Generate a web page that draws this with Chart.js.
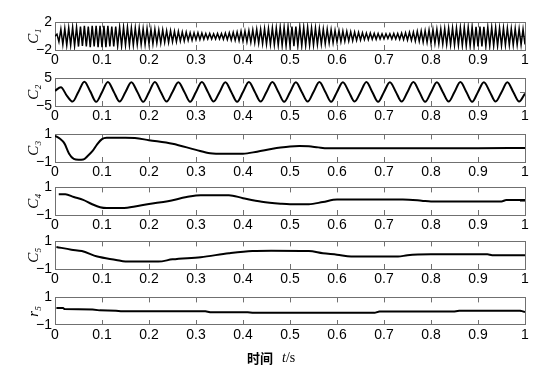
<!DOCTYPE html>
<html>
<head>
<meta charset="utf-8">
<script src="https://cdn.jsdelivr.net/npm/chart.js@4"></script>
<style>
  html, body { margin: 0; padding: 0; background: #fff; }
  #wrap { position: relative; width: 547px; height: 372px; overflow: hidden; }
  #wrap canvas { position: absolute; left: 0; }
</style>
</head>
<body>
<div id="wrap"></div>
<script>
// C1: evenly sampled, one value per half cycle (s)
const c1Step = 1 / 240;
const c1 = [0,
  0.3,-0.8,1.0,-1.2,1.1,-1.3,1.2,-1.3,1.3,-1.4,1.3,-1.5,1.4,-1.4,1.5,-1.5,1.4,-1.6,1.5,-1.5,1.5,-1.6,1.5,-1.6,
  1.5,-1.6,1.5,-1.5,1.4,-1.5,1.4,-1.4,1.3,-1.4,1.3,-1.3,1.3,-1.3,1.2,-1.3,1.2,-1.2,1.2,-1.2,1.1,-1.2,1.1,-1.1,
  1.0,-1.1,1.0,-1.0,0.9,-1.0,0.9,-0.9,0.8,-0.9,0.8,-0.8,0.7,-0.8,0.7,-0.7,0.6,-0.7,0.6,-0.6,0.5,-0.6,0.5,-0.5,
  0.5,-0.5,0.45,-0.45,0.4,-0.4,0.4,-0.4,0.35,-0.4,0.4,-0.4,0.4,-0.45,0.45,-0.5,0.5,-0.55,0.55,-0.6,0.6,-0.65,0.7,-0.75,
  0.75,-0.8,0.8,-0.9,0.9,-0.95,1.0,-1.0,1.0,-1.1,1.1,-1.15,1.1,-1.2,1.2,-1.25,1.2,-1.3,1.3,-1.35,1.3,-1.4,1.35,-1.4,
  1.4,-1.45,1.4,-1.4,1.35,-1.4,1.3,-1.35,1.3,-1.3,1.2,-1.3,1.2,-1.2,1.1,-1.15,1.05,-1.1,1.0,-1.0,0.95,-0.95,0.85,-0.85,
  0.8,-0.8,0.75,-0.75,0.7,-0.7,0.65,-0.65,0.6,-0.6,0.55,-0.55,0.5,-0.5,0.45,-0.5,0.45,-0.45,0.4,-0.45,0.4,-0.4,0.35,-0.4,
  0.35,-0.35,0.35,-0.4,0.4,-0.4,0.4,-0.45,0.45,-0.5,0.5,-0.55,0.55,-0.6,0.6,-0.7,0.7,-0.75,0.75,-0.85,0.8,-0.9,0.9,-1.0,
  0.95,-1.05,1.0,-1.1,1.05,-1.15,1.1,-1.2,1.15,-1.25,1.2,-1.3,1.2,-1.3,1.25,-1.35,1.3,-1.4,1.3,-1.4,1.35,-1.45,1.35,-1.5,
  1.4,-1.5,1.35,-1.45,1.3,-1.4,1.3,-1.4,1.25,-1.4,1.2,-1.35,1.2,-1.3,1.15,-1.3,1.1,-1.3,1.1,-1.25,1.05,-1.25,1.0,-1.2
];

// C2: evenly sampled every quarter period
const c2Step = 0.0125;
const c2 = [0.5, 1.8, -1.2, -3.4, 0.2, 3.8,
  0.3,-3.5,0.0,3.7,  0.2,-3.4,0.1,3.6,  0.2,-3.5,0.0,3.7,  0.1,-3.4,0.1,3.6,
  0.2,-3.5,0.1,3.7,  0.2,-3.4,0.0,3.6,  0.1,-3.5,0.1,3.7,  0.2,-3.4,0.1,3.7,
  0.2,-3.5,0.0,3.6,  0.1,-3.4,0.1,3.7,  0.2,-3.5,0.1,3.6,  0.2,-3.4,0.0,3.7,
  0.1,-3.5,0.1,3.6,  0.2,-3.4,0.1,3.7,  0.2,-3.5,0.0,3.6,  0.1,-3.4,0.1,3.7,
  0.2,-3.5,0.1,3.6,  0.2,-3.4,0.0,3.6,
  0.1, -3.4, -0.5
];

const c3T = [0, 0.01, 0.02, 0.03, 0.04, 0.05, 0.06, 0.07, 0.08, 0.09, 0.1, 0.11, 0.13, 0.15, 0.17, 0.2, 0.25, 0.3, 0.33, 0.36, 0.4, 0.43, 0.46, 0.48, 0.5, 0.52, 0.54, 0.56, 0.58, 0.7, 0.8, 0.9, 1.0];
const c3V = [0.9, 0.7, 0.35, -0.4, -0.78, -0.84, -0.82, -0.55, -0.2, 0.3, 0.66, 0.75, 0.76, 0.76, 0.74, 0.58, 0.32, -0.12, -0.36, -0.4, -0.4, -0.25, -0.06, 0.05, 0.13, 0.16, 0.14, 0.06, 0.0, 0.0, 0.0, 0.0, 0.02];

const c4T = [0.008, 0.022, 0.04, 0.06, 0.078, 0.096, 0.11, 0.147, 0.17, 0.2, 0.24, 0.28, 0.31, 0.37, 0.4, 0.44, 0.48, 0.5, 0.54, 0.57, 0.6, 0.74, 0.78, 0.8, 0.95, 0.96, 1.0];
const c4V = [0.5, 0.5, 0.3, 0.1, -0.2, -0.44, -0.5, -0.5, -0.38, -0.2, 0.0, 0.3, 0.44, 0.44, 0.22, -0.04, -0.18, -0.22, -0.22, -0.06, 0.12, 0.12, 0.04, -0.02, -0.02, 0.08, 0.08];

const c5T = [0.003, 0.035, 0.057, 0.09, 0.13, 0.15, 0.22, 0.25, 0.31, 0.37, 0.42, 0.46, 0.54, 0.57, 0.6, 0.63, 0.73, 0.75, 0.8, 0.92, 0.93, 1.0];
const c5V = [0.6, 0.4, 0.3, -0.1, -0.34, -0.46, -0.46, -0.3, -0.14, 0.14, 0.3, 0.32, 0.3, 0.14, 0.04, -0.1, -0.1, 0.0, 0.06, 0.06, 0.0, 0.0];

const r5T = [0.003, 0.017, 0.02, 0.08, 0.095, 0.13, 0.14, 0.32, 0.33, 0.41, 0.42, 0.68, 0.69, 0.85, 0.86, 0.99, 1.0];
const r5V = [0.24, 0.24, 0.16, 0.12, 0.06, 0.04, 0.0, 0.0, -0.08, -0.08, -0.12, -0.12, -0.02, -0.02, 0.04, 0.04, -0.06];

const names  = ['C\u2081', 'C\u2082', 'C\u2083', 'C\u2084', 'C\u2085', 'r\u2085'];
const yLims  = [2, 5, 1, 1, 1, 1];
const xTitle = ['\u65f6\u95f4', 't', '/s'];

function evenPts(vals, step) { return vals.map((v, i) => ({ x: i * step, y: v })); }
function pairPts(ts, vs) { return ts.map((t, i) => ({ x: t, y: vs[i] })); }

const series = [
  { pts: evenPts(c1, c1Step), lw: 1.5, smooth: false },
  { pts: evenPts(c2, c2Step), lw: 2, smooth: true },
  { pts: pairPts(c3T, c3V), lw: 2, smooth: true },
  { pts: pairPts(c4T, c4V), lw: 2, smooth: true },
  { pts: pairPts(c5T, c5V), lw: 2, smooth: true },
  { pts: pairPts(r5T, r5V), lw: 2, smooth: false }
];

// layout
const panelTops = [16, 72, 128, 181, 235, 291];
const PANEL_H = 34, PAD_TOP = 10, XAXIS_H = 18, CAP_H = 30;
const AX = '#707070';
const tickFont = { family: '"Liberation Sans", Arial, sans-serif', size: 14 };
const gridOpts = { drawOnChartArea: false, tickLength: -5, color: AX, lineWidth: 1 };
const borderOpts = { color: AX, width: 1 };

function minus(v) { return v < 0 ? '\u2212' + Math.abs(v) : String(v); }

const caption = {
  id: 'caption',
  afterDraw(chart) {
    const { ctx, chartArea } = chart;
    const y = chartArea.bottom + 33;
    let x = chartArea.left + 192;
    ctx.save();
    ctx.fillStyle = '#000';
    ctx.textBaseline = 'middle';
    ctx.font = 'bold 13px "Noto Sans CJK SC"';
    ctx.fillText(xTitle[0], x, y);
    x += ctx.measureText(xTitle[0]).width + 9;
    ctx.font = 'italic 14px "Liberation Serif"';
    ctx.fillText(xTitle[1], x, y);
    x += ctx.measureText(xTitle[1]).width;
    ctx.font = '14px "Liberation Serif"';
    ctx.fillText(xTitle[2], x, y);
    ctx.restore();
  }
};

const wrap = document.getElementById('wrap');

series.forEach((s, i) => {
  const last = i === series.length - 1;
  const lim = yLims[i];
  const cv = document.createElement('canvas');
  cv.width = 547;
  cv.height = PAD_TOP + PANEL_H + XAXIS_H + (last ? CAP_H : 0);
  cv.style.top = (panelTops[i] - PAD_TOP) + 'px';
  wrap.appendChild(cv);

  new Chart(cv, {
    type: 'line',
    data: { datasets: [{
      data: s.pts, borderColor: '#000', borderWidth: s.lw, pointRadius: 0,
      cubicInterpolationMode: s.smooth ? 'monotone' : 'default', tension: 0
    }]},
    options: {
      responsive: false, animation: false, events: [],
      layout: { padding: { left: 25, right: 22, top: PAD_TOP, bottom: last ? CAP_H : 0 } },
      plugins: { legend: { display: false }, tooltip: { enabled: false } },
      scales: {
        x: {
          type: 'linear', position: 'bottom', min: 0, max: 1,
          afterFit: sc => { sc.height = XAXIS_H; },
          ticks: { stepSize: 0.1, padding: 7, color: '#000', font: tickFont, maxRotation: 0, autoSkip: false,
                   callback: v => String(+v.toFixed(1)) },
          grid: gridOpts, border: borderOpts
        },
        xTop: {
          type: 'linear', position: 'top', min: 0, max: 1,
          afterFit: sc => { sc.height = 0; },
          ticks: { stepSize: 0.1, display: false },
          grid: gridOpts, border: borderOpts
        },
        y: {
          type: 'linear', position: 'left', min: -lim, max: lim,
          afterFit: sc => { sc.width = 30; },
          ticks: { stepSize: lim, padding: 8, color: '#000', font: tickFont, callback: minus },
          title: { display: true, text: names[i], color: '#000', padding: 0,
                   font: { family: '"Liberation Serif", "DejaVu Serif", serif', style: 'italic', size: 15 } },
          grid: gridOpts, border: borderOpts
        },
        yRight: {
          type: 'linear', position: 'right', min: -lim, max: lim,
          afterFit: sc => { sc.width = 0; },
          ticks: { stepSize: lim, display: false },
          grid: gridOpts, border: borderOpts
        }
      }
    },
    plugins: last ? [caption] : []
  });
});
</script>
</body>
</html>
